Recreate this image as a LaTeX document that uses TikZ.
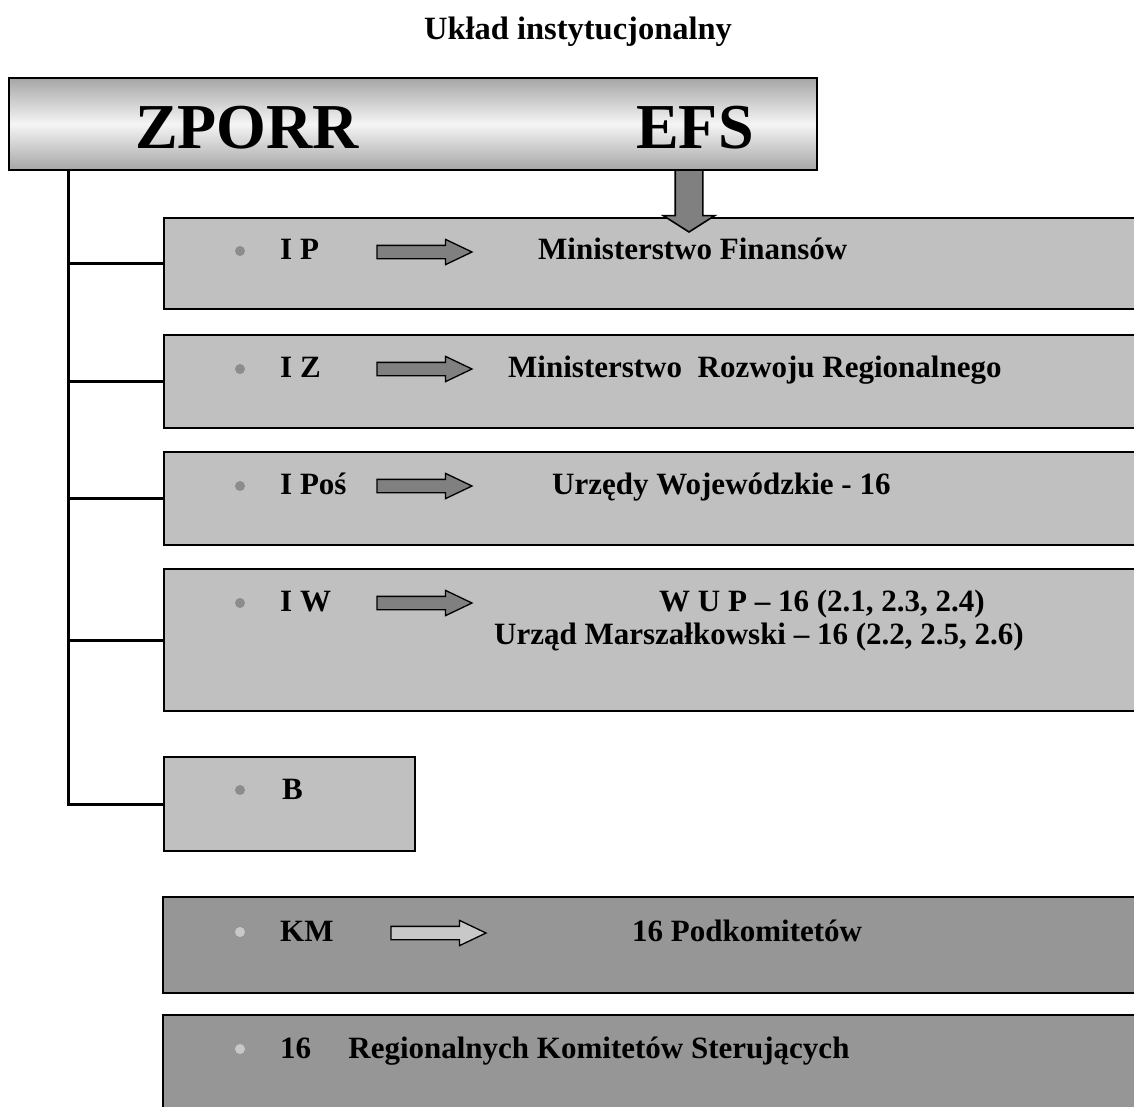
\documentclass[tikz,border=0pt]{standalone}
\usepackage{fontspec}
\setmainfont{Liberation Serif}
\usetikzlibrary{shapes.arrows}
\definecolor{rowgray}{HTML}{C0C0C0}
\definecolor{kmgray}{HTML}{969696}
\definecolor{arrgray}{HTML}{808080}
\definecolor{dotgray}{HTML}{8C8C8C}
\definecolor{dotlight}{HTML}{C8C8C8}
\definecolor{arrlight}{HTML}{C8C8C8}
\tikzset{
  rowbox/.style={draw, line width=1.6pt, fill=rowgray, anchor=north west, inner sep=0pt, outer sep=0pt},
  kmbox/.style={rowbox, fill=kmgray},
  dotmark/.style={circle, fill=dotgray, inner sep=0pt, minimum size=10pt},
  dotmarklight/.style={dotmark, fill=dotlight},
  txt/.style={anchor=base west, inner sep=0pt, font=\fontsize{31}{36}\selectfont\bfseries},
  bigtxt/.style={anchor=base west, inner sep=0pt, font=\fontsize{64}{72}\selectfont\bfseries},
  smallarrow/.style={single arrow, draw, line width=1.3pt, fill=arrgray, inner xsep=0pt, inner ysep=6pt,
     minimum height=95pt, single arrow head extend=6pt, single arrow tip angle=51, outer sep=0pt, anchor=tail},
  downarrow/.style={single arrow, draw, line width=1.6pt, fill=arrgray, inner xsep=0pt, inner ysep=13pt,
     minimum height=62pt, single arrow head extend=12pt, single arrow tip angle=115, rotate=-90, outer sep=0pt, anchor=tail},
  trunk/.style={line width=3pt},
}
\begin{document}
\begin{tikzpicture}[x=1pt,y=-1pt]
\useasboundingbox (0,0) rectangle (1134,1106);
% title
\node[txt, anchor=base, font=\fontsize{32.5}{36}\selectfont\bfseries] (title) at (578,39) {Układ instytucjonalny};
% top box
\node[draw, line width=2pt, anchor=north west, minimum width=808pt, minimum height=92pt, inner sep=0pt,
      top color=black!35, bottom color=black!35, middle color=black!4] (top) at (8,77) {};
\node[bigtxt] (zporr) at (135,148) {ZPORR};
\node[bigtxt] (efs) at (636,148) {EFS};
% rows
\node[rowbox, minimum width=1000pt, minimum height=91pt] (ip) at (164,218) {};
\node[rowbox, minimum width=1000pt, minimum height=93pt] (iz) at (164,335) {};
\node[rowbox, minimum width=1000pt, minimum height=93pt] (ipos) at (164,452) {};
\node[rowbox, minimum width=1000pt, minimum height=142pt] (iw) at (164,569) {};
\node[rowbox, minimum width=251pt, minimum height=94pt] (b) at (164,757) {};
\node[kmbox, minimum width=1000pt, minimum height=96pt] (km) at (163,897) {};
\node[kmbox, minimum width=1000pt, minimum height=120pt] (reg) at (163,1015) {};
% trunk
\coordinate (trunktop) at (68,169);
\draw[trunk] (trunktop) |- (b.west);
\draw[trunk] (trunktop |- ip.west) -- (ip.west);
\draw[trunk] (trunktop |- iz.west) -- (iz.west);
\draw[trunk] (trunktop |- ipos.west) -- (ipos.west);
\draw[trunk] (trunktop |- iw.west) -- (iw.west);
% EFS down arrow
\node[downarrow] (efsarrow) at (689,170) {};
% bullets
\node[dotmark] (d1) at (240,251) {};
\node[dotmark] (d2) at (240,369) {};
\node[dotmark] (d3) at (240,486) {};
\node[dotmark] (d4) at (240,603) {};
\node[dotmark] (d5) at (240,790) {};
\node[dotmarklight] (d6) at (240,932) {};
\node[dotmarklight] (d7) at (240,1049) {};
% row labels
\node[txt] (lip) at (280,259) {I P};
\node[txt] (liz) at (280,377) {I Z};
\node[txt] (lipos) at (280,494) {I Poś};
\node[txt] (liw) at (280,611) {I W};
\node[txt] (lb) at (282,799) {B};
\node[txt] (lkm) at (280,941) {KM};
\node[txt] (lreg) at (280,1058) {16\hspace{1.2em}Regionalnych Komitetów Sterujących};
% arrows
\node[smallarrow] (a1) at (377,252) {};
\node[smallarrow] (a2) at (377,369) {};
\node[smallarrow] (a3) at (377,486) {};
\node[smallarrow] (a4) at (377,603) {};
\node[smallarrow, fill=arrlight] (a5) at (391,933) {};
% targets
\node[txt] (tip) at (538,259) {Ministerstwo Finansów};
\node[txt] (tiz) at (508,377) {Ministerstwo\hspace{0.5em}Rozwoju Regionalnego};
\node[txt] (tipos) at (552,494) {Urzędy Wojewódzkie - 16};
\node[txt] (tiw1) at (659,611) {W U P – 16 (2.1, 2.3, 2.4)};
\node[txt] (tiw2) at (494,644) {Urząd Marszałkowski – 16 (2.2, 2.5, 2.6)};
\node[txt] (tkm) at (632,941) {16 Podkomitetów};
\end{tikzpicture}
\end{document}
